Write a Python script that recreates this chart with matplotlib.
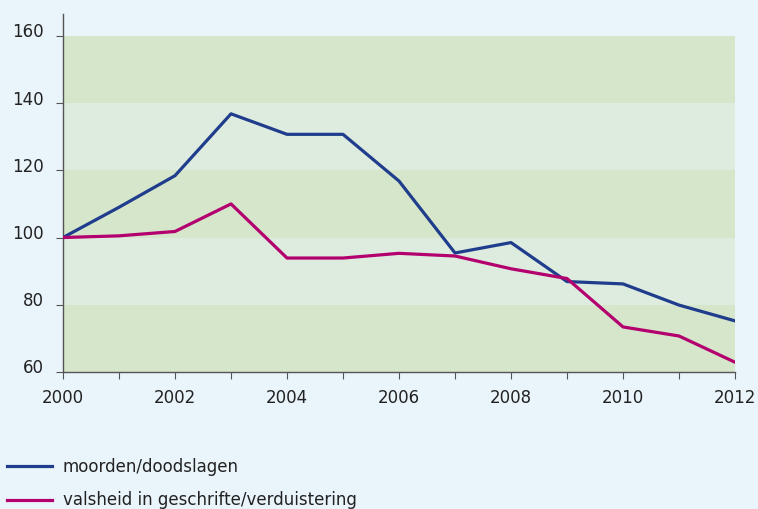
import matplotlib
matplotlib.use("Agg")
import matplotlib.pyplot as plt
import matplotlib.transforms as mtransforms

years = list(range(2000, 2013))
moorden = [100, 109, 118.4, 136.8, 130.7, 130.7, 116.8, 95.4, 98.5, 86.9, 86.2, 79.9, 75.2]
valsheid = [100, 100.5, 101.8, 110, 93.9, 93.9, 95.3, 94.5, 90.7, 87.8, 73.4, 70.7, 62.9]
labels = ["moorden/doodslagen", "valsheid in geschrifte/verduistering"]

bg = "#eaf4fb"
dark_band = "#d5e6cb"
light_band = "#deecdf"
blue = "#1f3d8c"
magenta = "#b3006e"

plt.rcParams["font.family"] = ["DejaVu Sans"]

fig = plt.figure(figsize=(7.58, 5.09), dpi=100, facecolor=bg)
ax = fig.add_axes([0.0831, 0.2692, 0.8866, 0.7033])
ax.set_facecolor(bg)

# horizontal bands
for i, lo in enumerate(range(60, 160, 20)):
    ax.axhspan(lo, lo + 20, xmin=0, xmax=1, color=dark_band if i % 2 == 0 else light_band,
               lw=0, zorder=0)

ax.plot(years, moorden, color=blue, lw=2.3, label=labels[0], zorder=3)
ax.plot(years, valsheid, color=magenta, lw=2.3, label=labels[1], zorder=3)

ax.set_xlim(2000, 2012)
ax.set_ylim(60, 166.5)
ax.set_yticks(range(60, 161, 20))
ax.set_xticks(years, minor=False)
ax.set_xticklabels([str(y) if y % 2 == 0 else "" for y in years])

for s in ["top", "right"]:
    ax.spines[s].set_visible(False)
for s in ["left", "bottom"]:
    ax.spines[s].set_color("#555555")
    ax.spines[s].set_linewidth(1)

ax.tick_params(axis="both", direction="out", length=5, color="#555555",
               labelsize=12, labelcolor="#222222")
ax.tick_params(axis="x", pad=7)
ax.tick_params(axis="y", pad=9)

# y labels sit a bit above their ticks in the original
offset = mtransforms.ScaledTranslation(0, 4 / 72, fig.dpi_scale_trans)
for lab in ax.get_yticklabels():
    lab.set_transform(lab.get_transform() + offset)

fig.legend(loc="upper left", bbox_to_anchor=(0.0092, 0.101), frameon=False,
           fontsize=12, handlelength=2.7, handletextpad=0.66, labelspacing=0.95,
           borderaxespad=0, borderpad=0, labelcolor="#222222")

fig.savefig("out.png", dpi=100, facecolor=bg)
